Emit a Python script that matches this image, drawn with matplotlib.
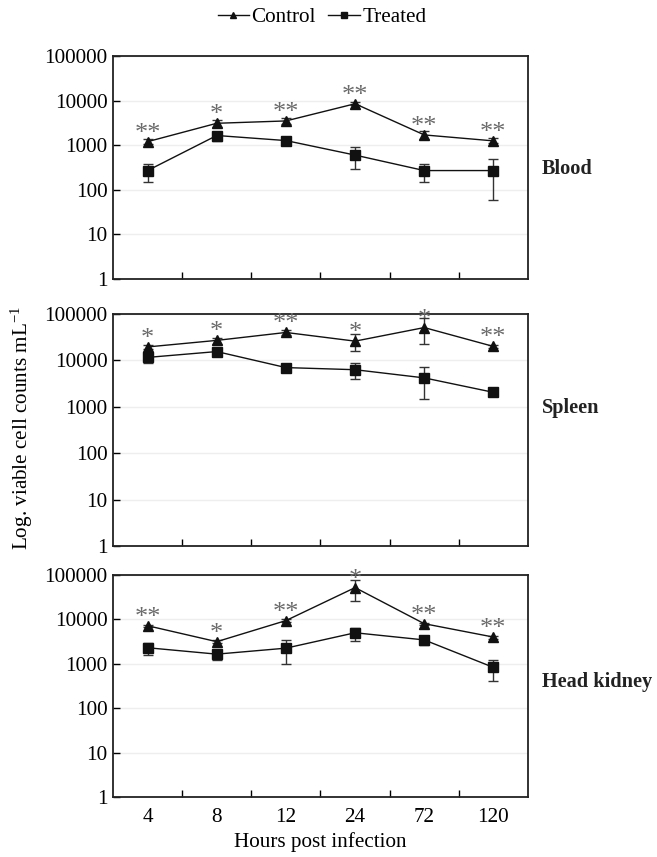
import matplotlib
matplotlib.use("Agg")
import matplotlib.pyplot as plt
import numpy as np
from matplotlib.ticker import FixedLocator, FuncFormatter, NullFormatter
from matplotlib.lines import Line2D

plt.rcParams['font.family'] = ['Liberation Serif', 'DejaVu Serif']
plt.rcParams['mathtext.fontset'] = 'stix'

hours = ["4", "8", "12", "24", "72", "120"]
panels = ["Blood", "Spleen", "Head kidney"]

# Control means and error bar bounds
blood_ctrl = [1200, 3100, 3500, 8500, 1700, 1250]
blood_ctrl_lo = [1050, 2600, 3000, 7800, 1400, 1100]
blood_ctrl_hi = [1380, 3600, 4100, 9300, 2050, 1450]
spleen_ctrl = [19500, 27000, 40000, 26000, 51000, 20000]
spleen_ctrl_lo = [17500, 23000, 35000, 16000, 22500, 18500]
spleen_ctrl_hi = [21500, 31000, 45000, 37000, 82000, 21500]
kidney_ctrl = [7200, 3150, 9400, 52000, 8000, 4000]
kidney_ctrl_lo = [6800, 2900, 8800, 26500, 7500, 3700]
kidney_ctrl_hi = [7600, 3400, 10000, 78000, 8500, 4300]

# Treated means and error bar bounds
blood_trt = [270, 1650, 1270, 600, 270, 270]
blood_trt_lo = [150, 1250, 1050, 300, 150, 59]
blood_trt_hi = [380, 1950, 1500, 890, 380, 480]
spleen_trt = [11600, 15500, 7000, 6300, 4200, 2050]
spleen_trt_lo = [9000, 14500, 6600, 4000, 1450, 1950]
spleen_trt_hi = [13500, 16500, 7400, 8700, 7100, 2150]
kidney_trt = [2300, 1650, 2250, 5000, 3450, 830]
kidney_trt_lo = [1540, 1240, 1000, 3300, 2650, 420]
kidney_trt_hi = [2950, 1950, 3450, 6500, 4200, 1190]

blood_sig = ["**", "*", "**", "**", "**", "**"]
spleen_sig = ["*", "*", "**", "*", "*", "**"]
kidney_sig = ["**", "*", "**", "*", "**", "**"]

ctrl_data = [(blood_ctrl, blood_ctrl_lo, blood_ctrl_hi),
             (spleen_ctrl, spleen_ctrl_lo, spleen_ctrl_hi),
             (kidney_ctrl, kidney_ctrl_lo, kidney_ctrl_hi)]
trt_data = [(blood_trt, blood_trt_lo, blood_trt_hi),
            (spleen_trt, spleen_trt_lo, spleen_trt_hi),
            (kidney_trt, kidney_trt_lo, kidney_trt_hi)]
sigs = [blood_sig, spleen_sig, kidney_sig]

W, H = 657, 857
fig = plt.figure(figsize=(W / 100, H / 100), dpi=100)

boxes = [(56, 279), (314, 546), (575, 797)]
label_y = [0.493, 0.595, 0.518]
left, right = 113, 528
fs = 15.2

x = np.arange(len(hours))
for i, (top, bot) in enumerate(boxes):
    ax = fig.add_axes([left / W, 1 - bot / H, (right - left) / W, (bot - top) / H])
    ax.set_yscale('log')
    ax.set_ylim(1, 100000)
    ax.set_xlim(-0.5, len(hours) - 0.5)
    ax.yaxis.set_major_locator(FixedLocator([1, 10, 100, 1000, 10000, 100000]))
    ax.yaxis.set_minor_locator(FixedLocator([]))
    ax.yaxis.set_major_formatter(FuncFormatter(lambda v, p: "%d" % round(v)))
    ax.grid(axis='y', which='major', color='#eeeeee', linewidth=1.0)
    ax.set_axisbelow(True)
    ax.xaxis.set_major_locator(FixedLocator(x))
    ax.xaxis.set_minor_locator(FixedLocator(x[:-1] + 0.5))
    ax.xaxis.set_minor_formatter(NullFormatter())
    ax.tick_params(axis='x', which='major', length=0, labelsize=fs, pad=8)
    ax.tick_params(axis='x', which='minor', direction='in', length=5, width=1.0)
    ax.tick_params(axis='y', which='major', direction='in', length=5, width=1.0,
                   labelsize=fs, pad=4)
    if i == 2:
        ax.set_xticklabels(hours)
    else:
        ax.set_xticklabels([])
    for sp in ax.spines.values():
        sp.set_linewidth(1.3)
        sp.set_color('#222222')

    c, clo, chi = ctrl_data[i]
    t, tlo, thi = trt_data[i]
    c = np.array(c, float); t = np.array(t, float)
    cerr = [c - np.array(clo), np.array(chi) - c]
    terr = [t - np.array(tlo), np.array(thi) - t]
    ax.errorbar(x, c, yerr=cerr, color='#111111', ecolor='#333333',
                marker='^', markersize=7, linewidth=1.0, elinewidth=1.0,
                capsize=3.5, capthick=1.0, zorder=3)
    ax.errorbar(x, t, yerr=terr, color='#111111', ecolor='#333333',
                marker='s', markersize=7, linewidth=1.0, elinewidth=1.0,
                capsize=3.5, capthick=1.0, zorder=3)
    for xi, ci, s in zip(x, c, sigs[i]):
        ax.annotate(s, (xi, ci), xytext=(0, 8), textcoords='offset pixels',
                    ha='center', va='center', fontsize=19, color='#6a6a6a',
                    annotation_clip=False, zorder=4)
    ax.text(1.034, label_y[i], panels[i], transform=ax.transAxes, fontsize=14.6,
            fontweight='bold', ha='left', va='center', color='#222222')

handles = [Line2D([], [], color='#111111', marker='^', markersize=5, linewidth=1.0),
           Line2D([], [], color='#111111', marker='s', markersize=5, linewidth=1.0)]
fig.legend(handles, ['Control', 'Treated'], loc='center', bbox_to_anchor=(0.49, 1 - 17 / H),
           ncol=2, frameon=False, fontsize=fs, handlelength=1.5, handletextpad=0.1,
           columnspacing=0.6)

fig.text(22 / W, 1 - 428 / H, "Log. viable cell counts mL$^{\\mathregular{-1}}$",
         rotation=90, ha='center', va='center', fontsize=fs)
fig.text((left + right) / 2 / W, 1 - 842 / H, "Hours post infection",
         ha='center', va='center', fontsize=fs)

fig.savefig("out.png", dpi=100)
